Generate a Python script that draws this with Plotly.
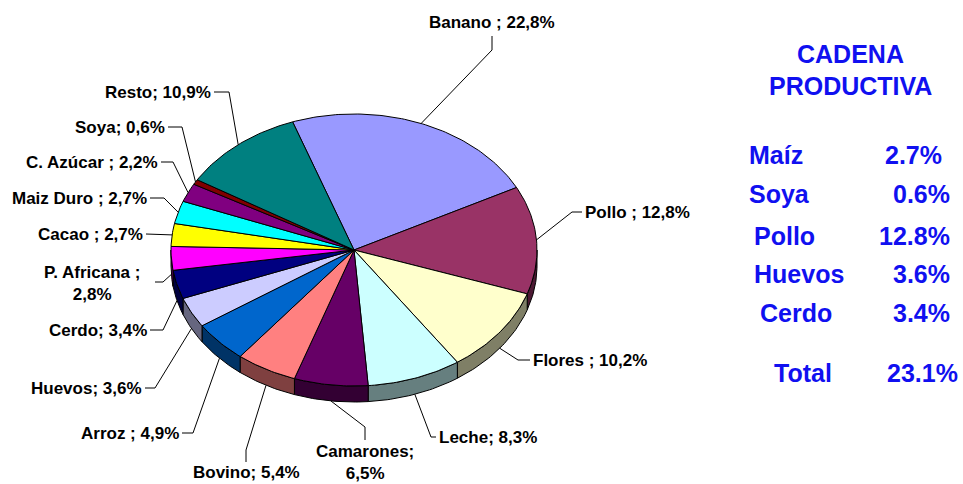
import numpy as np
import plotly.graph_objects as go

# Participación por producto (%), en el orden en que se recorre el pastel
productos = ["Banano", "Pollo", "Flores", "Leche", "Camarones", "Bovino", "Arroz",
             "Huevos", "Cerdo", "P. Africana", "Cacao", "Maiz Duro", "C. Azúcar",
             "Soya", "Resto"]
participacion = [22.8, 12.8, 10.2, 8.3, 6.5, 5.4, 4.9, 3.6, 3.4, 2.8, 2.7, 2.7, 2.2, 0.6, 10.9]
colores = ["#9999FF", "#993366", "#FFFFCC", "#CCFFFF", "#660066", "#FF8080", "#0066CC",
           "#CCCCFF", "#000080", "#FF00FF", "#FFFF00", "#00FFFF", "#800080", "#800000",
           "#008080"]
separador = [" ; ", " ; ", " ; ", "; ", ";<br>", "; ", " ; ", "; ", "; ", " ;<br>",
             " ; ", " ; ", " ; ", "; ", "; "]

# Cuadro de la cadena productiva
cadena = ["Maíz", "Soya", "Pollo", "Huevos", "Cerdo"]
cadena_pct = [2.7, 0.6, 12.8, 3.6, 3.4]

# Geometría del pastel 3D (unidades = píxeles del lienzo)
W, H = 963, 484
CX, CY, RX, RY, DEPTH = 354, 250, 183, 136, 16
START = -19.6  # grados, sentido horario desde las 12

# Posición de cada etiqueta: (x, y, anclaje, puntos de la guía desde el texto)
etiquetas = [
    (492, 22, "center", [(492, 36), (492, 50)]),
    (583, 212, "left", [(582, 212), (572, 212)]),
    (531, 360, "left", [(530, 360), (518, 360)]),
    (437, 437, "left", [(436, 437), (431, 437)]),
    (365, 462, "center", [(365, 440), (365, 427)]),
    (246, 472, "center", [(246, 462), (246, 450)]),
    (181, 433, "right", [(182, 433), (193, 433)]),
    (144, 388, "right", [(145, 388), (155, 388)]),
    (149, 330, "right", [(150, 330), (163, 330)]),
    (92, 283, "center", [(155, 282), (163, 282)]),
    (145, 234, "right", [(146, 234)]),
    (149, 198, "right", [(150, 198), (164, 198)]),
    (160, 162, "right", [(161, 162), (173, 162)]),
    (167, 127, "right", [(168, 127), (182, 127)]),
    (213, 92, "right", [(214, 92), (229, 92)]),
]


def punto(t):
    r = np.radians(t)
    return CX + RX * np.sin(r), CY - RY * np.cos(r)


def oscurecer(hexcol, f=0.5):
    h = hexcol.lstrip("#")
    r, g, b = (int(h[i:i + 2], 16) for i in (0, 2, 4))
    return "rgb(%d,%d,%d)" % (r * f, g * f, b * f)


valores = np.array(participacion)
angulos = START + 360 * np.concatenate([[0], np.cumsum(valores)]) / valores.sum()

fig = go.Figure()

# Paredes laterales (solo la mitad frontal es visible)
for i in range(len(productos)):
    a, b = angulos[i], angulos[i + 1]
    lo, hi = max(a, 90), min(b, 270)
    if hi <= lo:
        continue
    t = np.linspace(lo, hi, max(int(hi - lo) + 2, 3))
    xs, ys = punto(t)
    px = np.concatenate([xs, xs[::-1], xs[:1]])
    py = np.concatenate([ys, ys[::-1] + DEPTH, ys[:1]])
    fig.add_trace(go.Scatter(x=px, y=py, mode="lines", fill="toself",
                             fillcolor=oscurecer(colores[i]),
                             line=dict(color="black", width=1),
                             hoverinfo="skip", showlegend=False))

# Caras superiores
for i in range(len(productos)):
    a, b = angulos[i], angulos[i + 1]
    t = np.linspace(a, b, max(int(b - a) + 2, 3))
    xs, ys = punto(t)
    px = np.concatenate([[CX], xs, [CX]])
    py = np.concatenate([[CY], ys, [CY]])
    fig.add_trace(go.Scatter(x=px, y=py, mode="lines", fill="toself",
                             fillcolor=colores[i],
                             line=dict(color="black", width=1),
                             hoverinfo="skip", showlegend=False))

# Etiquetas con líneas guía
fuente = "Liberation Sans, Arial, sans-serif"
for i, (tx, ty, anc, guia) in enumerate(etiquetas):
    medio = (angulos[i] + angulos[i + 1]) / 2
    ex, ey = punto(medio)
    if np.cos(np.radians(medio)) < 0:
        ey += DEPTH
    gx = [p[0] for p in guia] + [ex]
    gy = [p[1] for p in guia] + [ey]
    fig.add_trace(go.Scatter(x=gx, y=gy, mode="lines",
                             line=dict(color="black", width=1),
                             hoverinfo="skip", showlegend=False))
    texto = "<b>%s%s%s%%</b>" % (productos[i], separador[i],
                                 ("%.1f" % participacion[i]).replace(".", ","))
    texto = texto.replace("<br>", "</b><br><b>")
    fig.add_annotation(x=tx, y=ty, xref="x", yref="y", text=texto, showarrow=False,
                       xanchor=anc, yanchor="middle", align="center",
                       font=dict(family=fuente, size=17, color="black"))

# Cuadro lateral
azul = "#1010F0"
for txt, yy in (("CADENA", 54), ("PRODUCTIVA", 86)):
    fig.add_annotation(x=850, y=yy, xref="x", yref="y", text="<b>%s</b>" % txt,
                       showarrow=False, xanchor="center", yanchor="middle",
                       font=dict(family=fuente, size=25, color=azul))

filas_y = [155, 194, 236, 274, 313]
filas_xl = [747, 747, 752, 752, 758]
filas_xr = [944, 952, 952, 952, 952]
for nombre, pct, yy, xl, xr in zip(cadena, cadena_pct, filas_y, filas_xl, filas_xr):
    fig.add_annotation(x=xl, y=yy, xref="x", yref="y", text="<b>%s</b>" % nombre,
                       showarrow=False, xanchor="left", yanchor="middle",
                       font=dict(family=fuente, size=25, color=azul))
    fig.add_annotation(x=xr, y=yy, xref="x", yref="y", text="<b>%.1f%%</b>" % pct,
                       showarrow=False, xanchor="right", yanchor="middle",
                       font=dict(family=fuente, size=25, color=azul))

total = round(sum(cadena_pct), 1)
fig.add_annotation(x=772, y=373, xref="x", yref="y", text="<b>Total</b>",
                   showarrow=False, xanchor="left", yanchor="middle",
                   font=dict(family=fuente, size=25, color=azul))
fig.add_annotation(x=960, y=373, xref="x", yref="y", text="<b>%.1f%%</b>" % total,
                   showarrow=False, xanchor="right", yanchor="middle",
                   font=dict(family=fuente, size=25, color=azul))

fig.update_layout(
    width=W, height=H, margin=dict(l=0, r=0, t=0, b=0),
    paper_bgcolor="white", plot_bgcolor="white",
    xaxis=dict(range=[0, W], visible=False, fixedrange=True),
    yaxis=dict(range=[H, 0], visible=False, fixedrange=True),
    showlegend=False,
)

fig.write_html("out.html")
